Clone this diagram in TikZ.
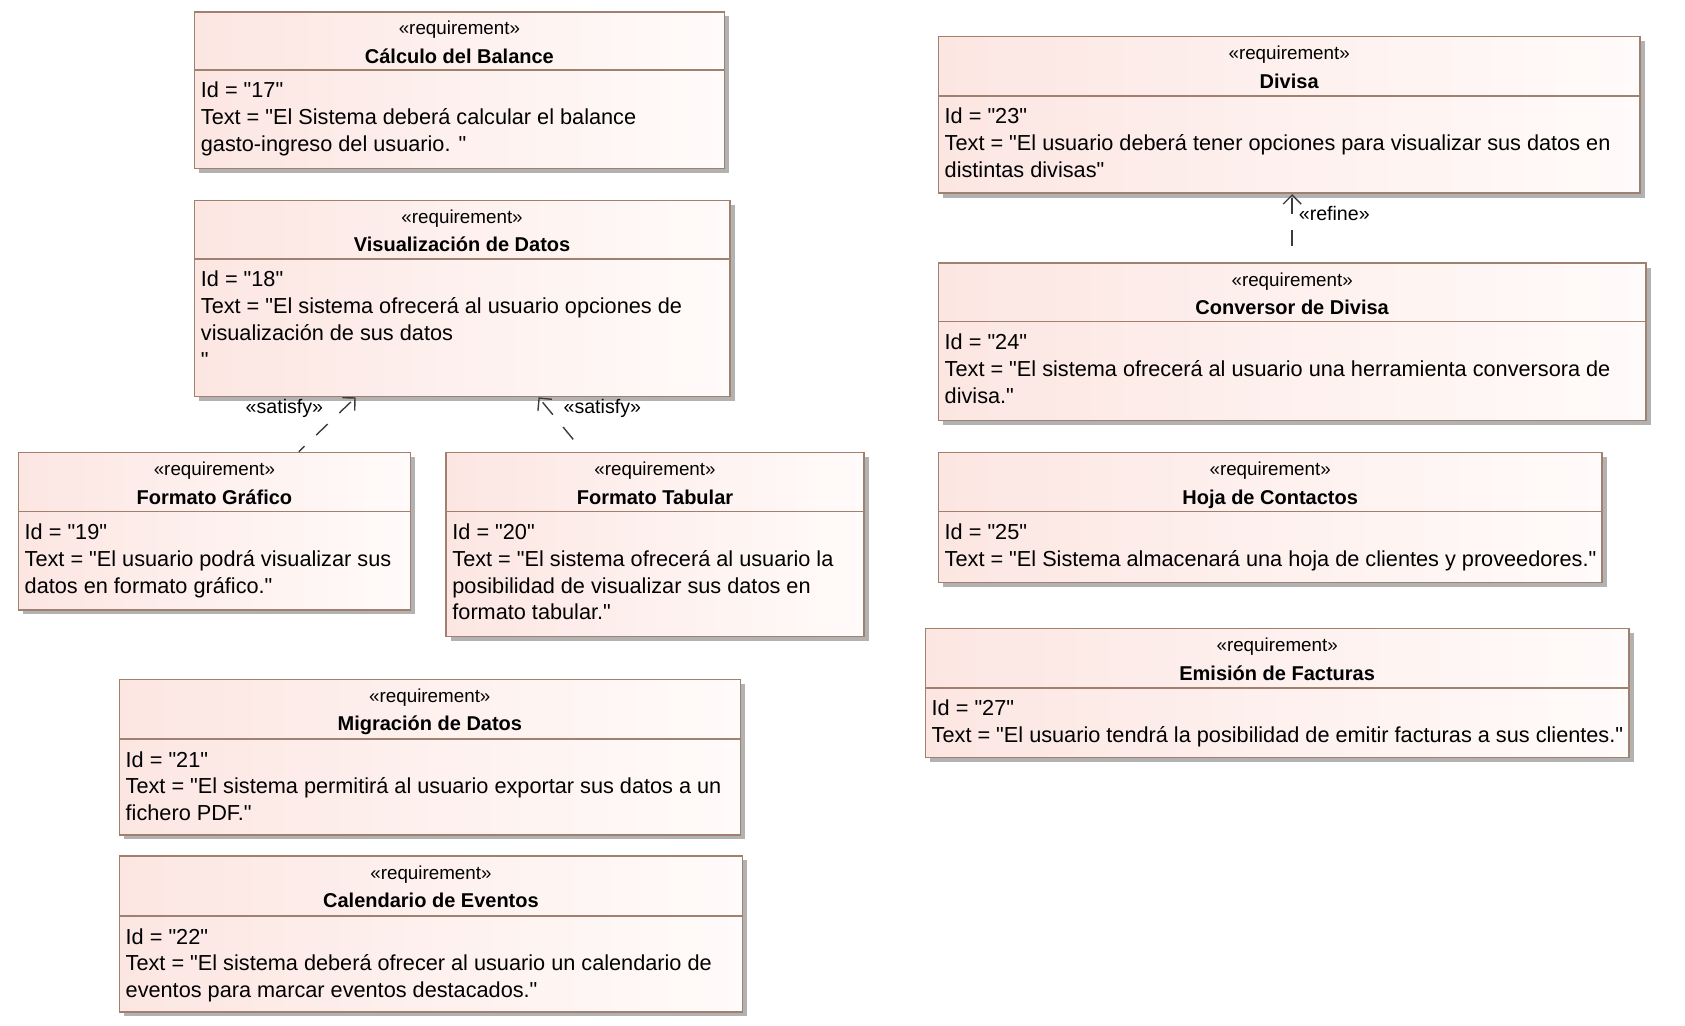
\documentclass[tikz,border=0pt]{standalone}
\usepackage{fontspec}
\setmainfont{Liberation Sans}[Ligatures=TeXOff]
\usetikzlibrary{arrows.meta,fit,shadows}
\definecolor{reqPink}{RGB}{252,230,226}
\definecolor{reqWhite}{RGB}{255,251,250}
\definecolor{reqBorder}{RGB}{160,128,110}
\definecolor{reqShadow}{RGB}{178,178,178}
\definecolor{relGray}{RGB}{60,60,60}

% requirement block: name, x1, y1, x2, y2, separator y, title, body
\newcommand{\reqbox}[8]{%
  \node[req, fit={(#2,#3) (#4,#5)}] (#1) {};
  \draw[reqsep] (#2,#6) -- (#4,#6);
  \node[stereo] (#1-st) at ({(#2+#4)/2},{#3+23}) {«requirement»};
  \node[reqname] (#1-nm) at ({(#2+#4)/2},{#3+51.5}) {#7};
  \node[reqtext] (#1-tx) at ({#2+6},{#6+28}) {\begin{tabular}[t]{@{}l@{}}#8\end{tabular}};
}

\begin{document}
\begin{tikzpicture}[x=0.5pt, y=-0.5pt,
        req/.style={draw=reqBorder, line width=0.8pt, inner sep=0pt,
                    left color=reqPink, right color=reqWhite,
                    drop shadow={shadow xshift=2.4pt, shadow yshift=-2.2pt, fill=reqShadow, opacity=1}},
        reqsep/.style={draw=reqBorder, line width=0.8pt},
        stereo/.style={anchor=base, inner sep=0pt, font=\fontsize{9.4}{11}\selectfont},
        reqname/.style={anchor=base, inner sep=0pt, font=\bfseries\fontsize{10}{12}\selectfont},
        reqtext/.style={anchor=base west, inner sep=0pt, font=\fontsize{10.85}{13.4}\selectfont},
        rel/.style={draw=relGray, line width=0.7pt, dash pattern=on 8pt off 8pt,
                    -{Straight Barb[length=4.5pt,width=9pt]}},
        rellbl/.style={inner sep=0pt, font=\fontsize{9.8}{11}\selectfont}
      ]
        \useasboundingbox (0,0) rectangle (1685,1026);
        % LEFT COLUMN
        \reqbox{bal}{194.5}{11.8}{724.3}{168.7}{70}{Cálculo del Balance}
          {Id = "17"\\Text = "El Sistema deberá calcular el balance\\gasto-ingreso del usuario. "}
        \reqbox{vis}{194.5}{200.5}{729.7}{396.5}{259}{Visualización de Datos}
          {Id = "18"\\Text = "El sistema ofrecerá al usuario opciones de\\visualización de sus datos\\"}
        \reqbox{graf}{18.3}{452.5}{410.5}{610}{511.5}{Formato Gráfico}
          {Id = "19"\\Text = "El usuario podrá visualizar sus\\datos en formato gráfico."}
        \reqbox{tab}{446}{452.5}{864}{636.5}{511.5}{Formato Tabular}
          {Id = "20"\\Text = "El sistema ofrecerá al usuario la\\posibilidad de visualizar sus datos en\\formato tabular."}
        \reqbox{mig}{119.3}{679.3}{740.4}{835}{739}{Migración de Datos}
          {Id = "21"\\Text = "El sistema permitirá al usuario exportar sus datos a un\\fichero PDF."}
        \reqbox{cal}{119.3}{856}{742.6}{1011.7}{916}{Calendario de Eventos}
          {Id = "22"\\Text = "El sistema deberá ofrecer al usuario un calendario de\\eventos para marcar eventos destacados."}
        % RIGHT COLUMN
        \reqbox{div}{938.3}{36.7}{1640}{193.3}{96}{Divisa}
          {Id = "23"\\Text = "El usuario deberá tener opciones para visualizar sus datos en\\distintas divisas"}
        \reqbox{conv}{938.3}{263.3}{1646}{420.5}{321.5}{Conversor de Divisa}
          {Id = "24"\\Text = "El sistema ofrecerá al usuario una herramienta conversora de\\divisa."}
        \reqbox{hoja}{938.3}{452.5}{1602}{582.4}{511.5}{Hoja de Contactos}
          {Id = "25"\\Text = "El Sistema almacenará una hoja de clientes y proveedores."}
        \reqbox{emi}{925.3}{628.6}{1629}{757.6}{687.7}{Emisión de Facturas}
          {Id = "27"\\Text = "El usuario tendrá la posibilidad de emitir facturas a sus clientes."}
        % Relations
        \draw[rel, dash phase=4pt] ([xshift=42.2pt]graf.north) -- node[rellbl, pos=0.79, anchor=east, xshift=-10pt] {«satisfy»} ([xshift=-53.2pt]vis.south);
        \draw[rel, dash phase=8pt] ([xshift=-35.8pt]tab.north) -- node[rellbl, pos=0.79, anchor=west, xshift=7.5pt] {«satisfy»} ([xshift=38.2pt]vis.south);
        \draw[rel, dash phase=8pt] (conv.north) -- node[rellbl, pos=0.72, anchor=west, xshift=3pt] {«refine»} ([xshift=1.5pt]div.south);
      \end{tikzpicture}
\end{document}
